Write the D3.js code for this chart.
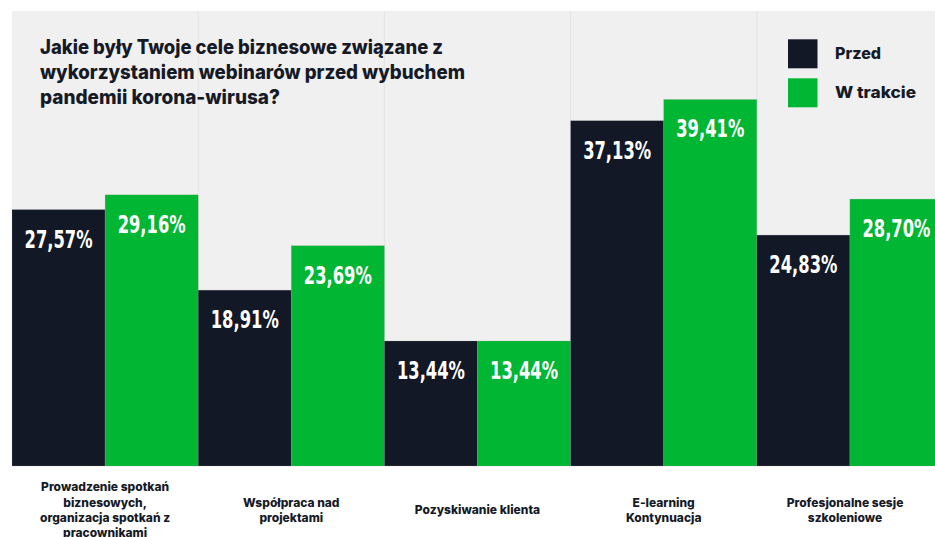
<!DOCTYPE html>
<html>
<head>
<meta charset="utf-8">
<script src="https://cdn.jsdelivr.net/npm/d3@7"></script>
<style>
  html, body { margin: 0; padding: 0; background: #ffffff; }
  svg { display: block; }
</style>
</head>
<body>
<svg id="chart" width="935" height="537"></svg>
<script>
// Survey answers: business goals of webinars, before vs. during the pandemic
const categories = [
  "Prowadzenie spotkań biznesowych, organizacja spotkań z pracownikami",
  "Współpraca nad projektami",
  "Pozyskiwanie klienta",
  "E-learning Kontynuacja",
  "Profesjonalne sesje szkoleniowe"
];
const categoryLines = [
  ["Prowadzenie spotkań", "biznesowych,", "organizacja spotkań z", "pracownikami"],
  ["Współpraca nad", "projektami"],
  ["Pozyskiwanie klienta"],
  ["E-learning", "Kontynuacja"],
  ["Profesjonalne sesje", "szkoleniowe"]
];
const seriesNames = ["Przed", "W trakcie"];
const przed    = [27.57, 18.91, 13.44, 37.13, 24.83];
const wTrakcie = [29.16, 23.69, 13.44, 39.41, 28.70];
const titleLines = [
  "Jakie były Twoje cele biznesowe związane z",
  "wykorzystaniem webinarów przed wybuchem",
  "pandemii korona-wirusa?"
];

const colors = { "Przed": "#131826", "W trakcie": "#00b632" };
const textDark = "#161a26";

const svg = d3.select("#chart");

const plot = { left: 12, top: 11, right: 935, bottom: 466 };

const x = d3.scaleBand().domain(categories).range([plot.left, 943]).padding(0);
const xs = d3.scaleBand().domain(seriesNames).range([0, x.bandwidth()]).padding(0);
const y = d3.scaleLinear().domain([0, 49]).range([plot.bottom, 10.3]);

// plot background
svg.append("rect")
  .attr("x", plot.left).attr("y", plot.top)
  .attr("width", plot.right - plot.left).attr("height", plot.bottom - plot.top)
  .attr("fill", "#f0f0f0");

// faint separators between category groups
svg.append("g").selectAll("line")
  .data(categories.slice(1))
  .join("line")
  .attr("x1", d => x(d)).attr("x2", d => x(d))
  .attr("y1", plot.top).attr("y2", plot.bottom)
  .attr("stroke", "#e4e4e4").attr("stroke-width", 1);

// rows of grouped values
const rows = categories.map((c, i) => ({
  category: c,
  values: [
    { series: "Przed", value: przed[i] },
    { series: "W trakcie", value: wTrakcie[i] }
  ]
}));

const fmt = v => d3.format(".2f")(v).replace(".", ",") + "%";

const groups = svg.append("g").selectAll("g")
  .data(rows)
  .join("g")
  .attr("transform", d => `translate(${x(d.category)},0)`);

groups.selectAll("rect")
  .data(d => d.values)
  .join("rect")
  .attr("x", d => xs(d.series))
  .attr("y", d => y(d.value))
  .attr("width", xs.bandwidth())
  .attr("height", d => y(0) - y(d.value))
  .attr("fill", d => colors[d.series])
  .attr("stroke", "#9aa09f")
  .attr("stroke-opacity", 0.35)
  .attr("stroke-width", 0.6);

groups.selectAll("text")
  .data(d => d.values)
  .join("text")
  .attr("x", d => xs(d.series) + xs.bandwidth() / 2)
  .attr("y", d => y(d.value) + 38)
  .attr("text-anchor", "middle")
  .attr("fill", "#ffffff")
  .attr("font-family", "'Liberation Sans Narrow', 'DejaVu Sans Condensed', 'Roboto Condensed', sans-serif")
  .attr("font-stretch", "condensed")
  .attr("font-weight", 700)
  .attr("font-size", 25)
  .attr("textLength", 68)
  .attr("lengthAdjust", "spacingAndGlyphs")
  .text(d => fmt(d.value));

// category labels under the plot
const lineH = 15.4;
const labelCenterY = 510;
svg.append("g").selectAll("text")
  .data(categories)
  .join("text")
  .attr("text-anchor", "middle")
  .attr("font-family", "Inter, 'Open Sans', sans-serif")
  .attr("font-weight", 800)
  .attr("font-size", 12)
  .attr("fill", textDark)
  .each(function(d, i) {
    const lines = categoryLines[i];
    const cx = Math.min(x(d) + x.bandwidth() / 2, 845);
    const y0 = labelCenterY - (lines.length - 1) * lineH / 2 + 4.3;
    d3.select(this).selectAll("tspan")
      .data(lines)
      .join("tspan")
      .attr("x", cx)
      .attr("y", (l, j) => y0 + j * lineH)
      .text(l => l);
  });

// title
const titleWidths = [403, 425, 240];
svg.append("g").selectAll("text")
  .data(titleLines)
  .join("text")
  .attr("x", 40)
  .attr("y", (d, i) => 53.5 + i * 25)
  .attr("font-family", "Inter, 'Open Sans', sans-serif")
  .attr("font-weight", 800)
  .attr("font-size", 19.5)
  .attr("fill", textDark)
  .attr("textLength", (d, i) => titleWidths[i])
  .attr("lengthAdjust", "spacingAndGlyphs")
  .text(d => d);

// legend
const legend = svg.append("g").selectAll("g")
  .data(seriesNames)
  .join("g")
  .attr("transform", (d, i) => `translate(788,${39.3 + i * 39})`);

legend.append("rect")
  .attr("width", 29.5).attr("height", 29)
  .attr("fill", d => colors[d]);

legend.append("text")
  .attr("x", 47)
  .attr("y", 20)
  .attr("font-family", "Inter, 'Open Sans', sans-serif")
  .attr("font-weight", 800)
  .attr("font-size", 16)
  .attr("fill", textDark)
  .attr("textLength", d => d === "Przed" ? 46 : 81)
  .attr("lengthAdjust", "spacingAndGlyphs")
  .text(d => d);
</script>
</body>
</html>
